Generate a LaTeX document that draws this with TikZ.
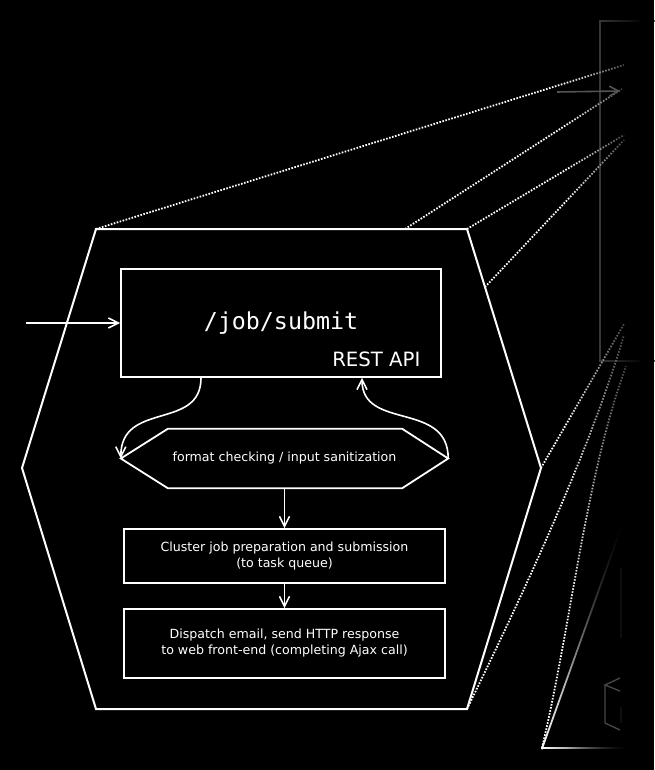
\documentclass[tikz,border=0pt]{standalone}
\usepackage{fontspec}
\setmainfont{DejaVu Sans}
\newfontfamily\monof{DejaVu Sans Mono}
\usetikzlibrary{arrows.meta,calc,fadings}
\tikzfading[name=fadeR, left color=transparent!100, right color=transparent!0]
\tikzset{
  boxA/.style={draw=white, line width=1.8pt, rectangle, inner sep=0pt, text=white, align=center,
    font=\fontsize{12.6}{16}\selectfont},
  arr/.style={draw=white, line width=1.6pt, -{Straight Barb[length=10pt,width=10pt]}},
  dotln/.style={draw=white, line width=1.8pt, dash pattern=on 1.6pt off 1.5pt},
  hexln/.style={draw=white, line width=2pt, line join=miter},
  smalltxt/.style={text=white, font=\fontsize{12.6}{16}\selectfont, inner sep=0pt}
}
\begin{document}
\begin{tikzpicture}[x=1pt,y=-1pt]
\useasboundingbox (0,0) rectangle (654,770);
\fill[black] (0,0) rectangle (654,770);

% outer hexagon
\coordinate (hTL) at (96,229);
\coordinate (hTR) at (467,229);
\coordinate (hR)  at (541,468);
\coordinate (hBR) at (467,709);
\coordinate (hBL) at (96,709);
\coordinate (hL)  at (22,468);
\draw[hexln] (hTL) -- (hTR) -- (hR) -- (hBR) -- (hBL) -- (hL) -- cycle;

% far-away shapes (faded)
\coordinate (tri) at (542,748);
\coordinate (triT) at (622,525);
\coordinate (triR) at (626,748);
\coordinate (f1) at (624,65);
\coordinate (f2) at (622,89);
\coordinate (f3) at (624,135);
\coordinate (f4) at (624,140);
\coordinate (f5) at (624,324);
\coordinate (f6) at (624,335);
\coordinate (f7) at (626,366);

\draw[draw=white!38!black, line width=1.6pt] (600,21) rectangle (670,361);

\draw[dotln] (hTL) -- (f1);
\draw[dotln] ($(hTL)!0.833!(hTR)$) -- (f2);
\draw[dotln] (hTR) -- (f3);
\draw[dotln] ($(hTR)!0.243!(hR)$) -- (f4);
\draw[dotln] (hR) -- (f5);
\draw[dotln] (hBR) .. controls (525,590) and (590,450) .. (f6);
\draw[dotln] (tri) .. controls (572,620) and (585,480) .. (f7);

\shade[left color=white, right color=black] (541,748.8) -- (621.3,524.6) -- (622.9,525.4) -- (542.6,749.6) -- cycle;
\shade[left color=white, right color=black] (541,747.2) rectangle (628,748.8);

% fade-out overlay
\fill[black, path fading=fadeR] (565,0) rectangle (645,770);
\fill[black] (640,0) rectangle (654,770);

% faint details
\coordinate (ga) at (557,92);
\coordinate (gb) at (620,91);
\draw[draw=white!33!black, line width=1.6pt, -{Straight Barb[length=9pt,width=10pt]}] (ga) -- (gb);
\draw[draw=white!28!black, line width=1.3pt] (620,678) -- (605,685) -- (620,691);
\draw[draw=white!28!black, line width=1.3pt] (605,685) -- (605,723) -- (620,730);
\draw[draw=white!5!black, line width=1.2pt] (621,568) -- (621,638);
\draw[draw=white!6!black, line width=1.2pt] (621,707) -- (621,723);

% REST API box
\node[boxA, minimum width=320pt, minimum height=108pt] (rest) at (281,323) {};
\node[text=white, inner sep=0pt, anchor=base, font=\monof\fontsize{23.3}{27}\selectfont] (jobsub) at (281,329.5) {/job/submit};
\node[text=white, inner sep=0pt, anchor=base, font=\fontsize{19.7}{23}\selectfont] (restlbl) at (376.3,366.7) {REST API};

% input arrow
\coordinate (inp) at (26,323);
\draw[arr] (inp) -- (rest.west);

% checking hexagon
\node[smalltxt, minimum width=327pt, minimum height=59pt] (chk) at (284.5,458.5) {format checking / input sanitization};
\draw[hexln, line width=1.8pt] (chk.west) -- ([xshift=47pt]chk.north west) -- ([xshift=-46pt]chk.north east)
  -- (chk.east) -- ([xshift=-46pt]chk.south east) -- ([xshift=47pt]chk.south west) -- cycle;

\draw[arr] ([xshift=-80pt]rest.south) .. controls +(0,53) and +(0,-58) .. (chk.west);
\draw[arr] (chk.east) .. controls +(0,-58) and +(0,53) .. ([xshift=81pt]rest.south);

% lower boxes
\node[boxA, minimum width=321pt, minimum height=54pt] (clu) at (284.5,556) {Cluster job preparation and submission\\(to task queue)};
\node[boxA, minimum width=321pt, minimum height=69pt] (disp) at (284.5,643.5) {Dispatch email, send HTTP response\\to web front-end (completing Ajax call)};

\draw[arr] (chk.south) -- (clu.north);
\draw[arr] (clu.south) -- (disp.north);
\end{tikzpicture}
\end{document}
